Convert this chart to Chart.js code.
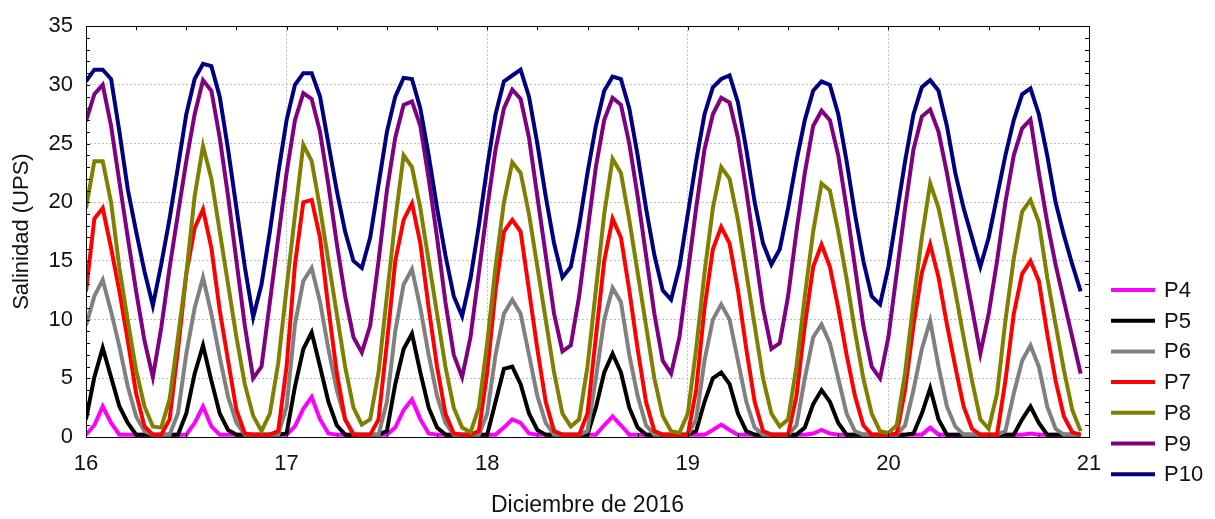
<!DOCTYPE html>
<html lang="es">
<head>
    <meta charset="UTF-8">
    <title>Salinidad</title>
    <style>
        body {
            margin: 0;
            padding: 0;
            background: #fff;
        }
        .chart-container {
            position: relative;
            width: 1215px;
            height: 519px;
        }
    </style>
    <script src="https://cdn.jsdelivr.net/npm/chart.js"></script>
</head>
<body>
    <div class="chart-container">
        <canvas id="salinity"></canvas>
    </div>
    <script>
        // hourly readings, 16 Dec 00:00 onwards
        const startDay = 16;
        const hoursPerDay = 24;
        const dayTicks = [16, 17, 18, 19, 20, 21];
        const seriesNames = ['P4', 'P5', 'P6', 'P7', 'P8', 'P9', 'P10'];

        const p4 = [0.2, 1.0, 2.6, 1.2, 0.2, 0.2, 0.2, 0.2, 0.2, 0.2,
            0.2, 0.2, 0.2, 1.2, 2.6, 0.9, 0.2, 0.2, 0.2, 0.2,
            0.2, 0.2, 0.2, 0.2, 0.2, 0.9, 2.4, 3.4, 1.5, 0.3,
            0.2, 0.2, 0.2, 0.2, 0.2, 0.2, 0.2, 0.8, 2.3, 3.2,
            1.5, 0.3, 0.2, 0.2, 0.2, 0.2, 0.2, 0.2, 0.2, 0.2,
            0.8, 1.5, 1.2, 0.3, 0.2, 0.2, 0.2, 0.2, 0.2, 0.2,
            0.2, 0.2, 1.0, 1.75, 1.0, 0.2, 0.2, 0.2, 0.2, 0.2,
            0.2, 0.2, 0.2, 0.2, 0.2, 0.6, 1.05, 0.6, 0.2, 0.2,
            0.2, 0.2, 0.2, 0.2, 0.2, 0.2, 0.2, 0.3, 0.6, 0.3,
            0.2, 0.2, 0.2, 0.2, 0.2, 0.2, 0.2, 0.2, 0.2, 0.2,
            0.2, 0.8, 0.2, 0.2, 0.2, 0.2, 0.2, 0.2, 0.2, 0.2,
            0.2, 0.2, 0.2, 0.3, 0.2, 0.2, 0.2, 0.2, 0.2, 0.2];

        const p5 = [1.5, 5.1, 7.6, 5.1, 2.6, 1.2, 0.2, 0.2, 0.2, 0.2,
            0.2, 0.2, 2.0, 5.4, 7.8, 4.8, 2.0, 0.6, 0.2, 0.2,
            0.2, 0.2, 0.2, 0.2, 0.3, 4.3, 7.5, 8.9, 6.0, 3.0,
            1.0, 0.2, 0.2, 0.2, 0.2, 0.2, 0.5, 4.5, 7.5, 8.8,
            5.5, 2.5, 0.8, 0.2, 0.2, 0.2, 0.2, 0.2, 0.2, 3.0,
            5.8, 6.0, 4.5, 2.0, 0.6, 0.2, 0.2, 0.2, 0.2, 0.2,
            0.2, 2.5, 5.5, 7.1, 5.5, 2.5, 0.8, 0.2, 0.2, 0.2,
            0.2, 0.2, 0.2, 0.5, 3.0, 5.0, 5.5, 4.5, 2.0, 0.5,
            0.2, 0.2, 0.2, 0.2, 0.2, 0.2, 0.8, 2.8, 4.0, 3.0,
            1.2, 0.2, 0.2, 0.2, 0.2, 0.2, 0.2, 0.2, 0.2, 0.3,
            2.0, 4.15, 1.5, 0.2, 0.2, 0.2, 0.2, 0.2, 0.2, 0.2,
            0.2, 0.2, 1.5, 2.6, 1.2, 0.2, 0.2, 0.2, 0.2, 0.2];

        const p6 = [9.5, 12.0, 13.4, 10.7, 7.7, 4.3, 1.75, 0.5, 0.2, 0.2,
            0.2, 2.0, 7.1, 11.0, 13.6, 10.5, 6.8, 3.4, 1.2, 0.2,
            0.2, 0.2, 0.2, 0.2, 2.6, 9.6, 13.3, 14.4, 11.5, 7.5,
            4.0, 1.5, 0.3, 0.2, 0.2, 0.2, 3.0, 9.0, 13.0, 14.3,
            11.0, 7.0, 3.5, 1.2, 0.2, 0.2, 0.2, 0.2, 2.0, 7.0,
            10.5, 11.7, 10.5, 7.0, 3.5, 1.2, 0.2, 0.2, 0.2, 0.2,
            0.5, 5.0, 10.0, 12.7, 11.5, 7.0, 3.5, 1.0, 0.2, 0.2,
            0.2, 0.2, 0.2, 1.5, 6.5, 10.0, 11.3, 10.0, 6.5, 3.0,
            0.8, 0.2, 0.2, 0.2, 0.2, 1.0, 5.0, 8.5, 9.6, 8.0,
            5.0, 2.0, 0.5, 0.2, 0.2, 0.2, 0.2, 0.2, 1.0, 4.0,
            7.5, 9.9, 6.0, 2.6, 0.9, 0.2, 0.2, 0.2, 0.2, 0.2,
            0.5, 3.7, 6.5, 7.8, 6.0, 2.6, 0.7, 0.2, 0.2, 0.2];

        const p7 = [12.4, 18.6, 19.5, 16.1, 12.4, 8.2, 3.7, 0.9, 0.2, 0.2,
            1.5, 7.4, 13.9, 17.8, 19.4, 16.1, 10.8, 6.5, 2.3, 0.3,
            0.2, 0.2, 0.2, 0.5, 6.0, 14.7, 20.0, 20.2, 17.0, 11.0,
            5.5, 1.5, 0.2, 0.2, 0.2, 1.5, 8.0, 15.0, 18.5, 19.9,
            16.5, 11.0, 6.0, 2.0, 0.3, 0.2, 0.2, 0.5, 5.5, 12.5,
            17.5, 18.5, 17.5, 12.5, 7.5, 3.0, 0.5, 0.2, 0.2, 0.2,
            2.0, 8.5, 15.0, 18.6, 17.0, 12.5, 7.5, 3.0, 0.5, 0.2,
            0.2, 0.2, 0.2, 4.0, 11.0, 16.0, 17.9, 16.5, 12.5, 7.5,
            3.0, 0.5, 0.2, 0.2, 0.2, 3.5, 9.5, 14.5, 16.4, 14.5,
            11.0, 7.0, 3.5, 1.0, 0.2, 0.2, 0.2, 0.3, 4.0, 9.5,
            14.0, 16.4, 13.6, 9.6, 6.0, 2.6, 0.7, 0.2, 0.2, 0.2,
            4.8, 10.5, 13.9, 15.0, 13.3, 8.8, 4.8, 1.75, 0.4, 0.2];

        const p8 = [19.5, 23.5, 23.5, 20.0, 14.4, 9.9, 5.7, 2.6, 0.9, 0.8,
            3.2, 8.5, 13.9, 20.5, 24.8, 22.0, 17.5, 13.0, 8.5, 4.5,
            1.8, 0.5, 2.0, 6.3, 12.7, 18.9, 24.9, 23.5, 19.5, 15.0,
            10.5, 6.0, 2.5, 1.05, 1.5, 5.5, 12.0, 18.5, 24.0, 23.0,
            19.5, 15.0, 10.5, 6.0, 2.5, 0.8, 0.4, 2.5, 8.0, 14.5,
            20.0, 23.4, 22.5, 19.0, 14.5, 10.0, 5.5, 2.0, 0.9, 1.5,
            6.0, 12.5, 19.0, 23.7, 22.5, 18.5, 14.0, 9.5, 5.0, 1.8,
            0.5, 0.35, 2.0, 7.5, 14.0, 19.5, 23.0, 22.0, 18.5, 14.0,
            9.5, 5.0, 2.0, 0.9, 1.5, 6.0, 12.0, 17.5, 21.6, 21.0,
            17.5, 13.5, 9.0, 5.0, 2.0, 0.5, 0.35, 1.0, 5.5, 11.5,
            17.0, 21.6, 19.5, 16.1, 12.4, 8.5, 4.8, 1.5, 0.7, 3.7,
            9.9, 15.2, 19.2, 20.2, 18.3, 13.6, 9.6, 5.7, 2.3, 0.5];

        const p9 = [26.9, 29.2, 30.0, 26.5, 21.7, 17.0, 12.4, 8.2, 5.1, 9.3,
            14.4, 19.0, 23.5, 27.5, 30.4, 29.5, 25.5, 20.5, 15.0, 9.5,
            5.0, 6.0, 11.5, 17.0, 22.5, 27.0, 29.3, 28.8, 26.0, 21.5,
            16.5, 12.0, 8.5, 7.2, 9.5, 15.0, 21.0, 25.5, 28.3, 28.6,
            26.5, 22.0, 17.0, 11.5, 7.0, 5.1, 8.5, 14.0, 19.5, 24.5,
            28.0, 29.6, 28.8, 25.5, 20.5, 15.5, 10.5, 7.3, 7.8, 12.0,
            17.5, 23.0, 27.0, 28.9, 28.3, 25.0, 20.5, 15.5, 10.5, 6.5,
            5.4, 8.5, 14.0, 19.5, 24.5, 27.5, 28.9, 28.5, 25.5, 21.0,
            16.0, 11.0, 7.5, 8.0, 12.0, 17.5, 22.5, 26.5, 27.8, 27.0,
            24.0, 19.5, 14.5, 9.5, 6.0, 5.0, 8.5, 14.0, 19.5, 24.5,
            27.3, 27.9, 26.0, 22.5, 18.6, 14.8, 11.0, 7.1, 10.5, 15.0,
            20.0, 24.0, 26.3, 27.05, 22.5, 18.3, 14.7, 11.6, 8.5, 5.4];

        const p10 = [30.3, 31.3, 31.3, 30.5, 26.0, 21.1, 17.5, 14.1, 11.2, 14.7,
            18.6, 23.0, 27.5, 30.5, 31.8, 31.6, 29.0, 24.5, 19.5, 14.5,
            10.2, 13.0, 17.5, 22.5, 27.0, 30.0, 31.0, 31.0, 29.0, 25.0,
            21.0, 17.5, 15.0, 14.4, 17.0, 21.5, 26.0, 29.0, 30.6, 30.5,
            28.0, 24.0, 19.5, 15.5, 12.0, 10.3, 13.5, 18.0, 23.0, 27.5,
            30.3, 30.8, 31.3, 29.0, 25.0, 20.5, 16.5, 13.6, 14.5, 18.0,
            22.5, 26.5, 29.5, 30.7, 30.5, 28.0, 24.0, 19.5, 15.5, 12.5,
            11.7, 14.5, 19.0, 23.5, 27.5, 29.8, 30.5, 30.8, 28.5, 24.5,
            20.0, 16.5, 14.7, 16.0, 19.5, 23.5, 27.0, 29.5, 30.3, 30.0,
            27.5, 23.5, 19.0, 15.0, 12.0, 11.3, 14.5, 19.0, 23.5, 27.5,
            29.8, 30.4, 29.5, 26.5, 22.5, 19.5, 17.0, 14.5, 17.0, 20.5,
            24.0, 27.0, 29.2, 29.7, 27.5, 24.0, 20.0, 17.2, 14.7, 12.4];

        const seriesValues = [p4, p5, p6, p7, p8, p9, p10];
        const seriesColors = ['#ff00ff', '#000000', '#808080', '#ff0000', '#808000', '#800080', '#000080'];

        const font = 'Arial, "Liberation Sans", sans-serif';
        const textColor = '#111';

        const datasets = seriesNames.map((name, i) => ({
            label: name,
            data: seriesValues[i].map((v, h) => ({x: startDay + h / hoursPerDay, y: v})),
            borderColor: seriesColors[i],
            backgroundColor: seriesColors[i],
            borderWidth: 4,
            pointRadius: 0,
            tension: 0,
            order: seriesNames.length - i   // P10 drawn last, on top
        }));

        // box around the plot plus the small inward ticks
        const framePlugin = {
            id: 'frame',
            afterDatasetsDraw(chart) {
                const {ctx, chartArea: a, scales: {x, y}} = chart;
                ctx.save();
                ctx.strokeStyle = '#000';
                ctx.lineWidth = 1;
                ctx.beginPath();
                for (let v = 0; v <= 35; v += 1) {
                    const py = Math.round(y.getPixelForValue(v)) + 0.5;
                    ctx.moveTo(a.left, py); ctx.lineTo(a.left + 4, py);
                    ctx.moveTo(a.right, py); ctx.lineTo(a.right - 4, py);
                }
                for (let d = 16; d <= 21; d += 0.25) {
                    const px = Math.round(x.getPixelForValue(d)) + 0.5;
                    ctx.moveTo(px, a.top); ctx.lineTo(px, a.top + 4);
                    ctx.moveTo(px, a.bottom); ctx.lineTo(px, a.bottom - 4);
                }
                ctx.stroke();
                ctx.strokeRect(Math.round(a.left) + 0.5, Math.round(a.top) + 0.5,
                    Math.round(a.width), Math.round(a.height));
                ctx.restore();
            }
        };

        // legend at the lower right, drawn by hand
        const sideLegend = {
            id: 'sideLegend',
            afterDraw(chart) {
                const ctx = chart.ctx;
                ctx.save();
                ctx.font = '22px ' + font;
                ctx.textBaseline = 'middle';
                ctx.fillStyle = textColor;
                chart.data.datasets.forEach((ds, i) => {
                    const yy = 290 + i * 30.7;
                    ctx.strokeStyle = ds.borderColor;
                    ctx.lineWidth = 4;
                    ctx.beginPath();
                    ctx.moveTo(1111, yy);
                    ctx.lineTo(1155, yy);
                    ctx.stroke();
                    ctx.fillText(ds.label, 1164, yy + 1);
                });
                ctx.restore();
            }
        };

        new Chart(document.getElementById('salinity'), {
            type: 'line',
            data: {datasets: datasets},
            options: {
                responsive: true,
                maintainAspectRatio: false,
                animation: false,
                layout: {padding: {top: 21, right: 126, left: 0, bottom: 0}},
                plugins: {
                    legend: {display: false},
                    tooltip: {enabled: false}
                },
                scales: {
                    x: {
                        type: 'linear',
                        min: 16,
                        max: 21,
                        afterBuildTicks(scale) {
                            scale.ticks = dayTicks.map(v => ({value: v}));
                        },
                        afterFit(scale) { scale.height = 82; },
                        grid: {color: '#bdbdbd', drawTicks: false},
                        border: {display: false, dash: [2, 2]},
                        ticks: {
                            padding: 14,
                            color: textColor,
                            font: {family: font, size: 22},
                            maxRotation: 0
                        },
                        title: {
                            display: true,
                            text: 'Diciembre de 2016',
                            color: textColor,
                            font: {family: font, size: 23},
                            padding: {top: 0, bottom: 0}
                        }
                    },
                    y: {
                        min: 0,
                        max: 35,
                        afterFit(scale) { scale.width = 86; },
                        grid: {color: '#bdbdbd', drawTicks: false},
                        border: {display: false, dash: [2, 2]},
                        ticks: {
                            stepSize: 5,
                            padding: 13,
                            color: textColor,
                            font: {family: font, size: 22}
                        },
                        title: {
                            display: true,
                            text: 'Salinidad (UPS)',
                            color: textColor,
                            font: {family: font, size: 22},
                            padding: {top: 9, bottom: 0}
                        }
                    }
                }
            },
            plugins: [framePlugin, sideLegend]
        });
    </script>
</body>
</html>
